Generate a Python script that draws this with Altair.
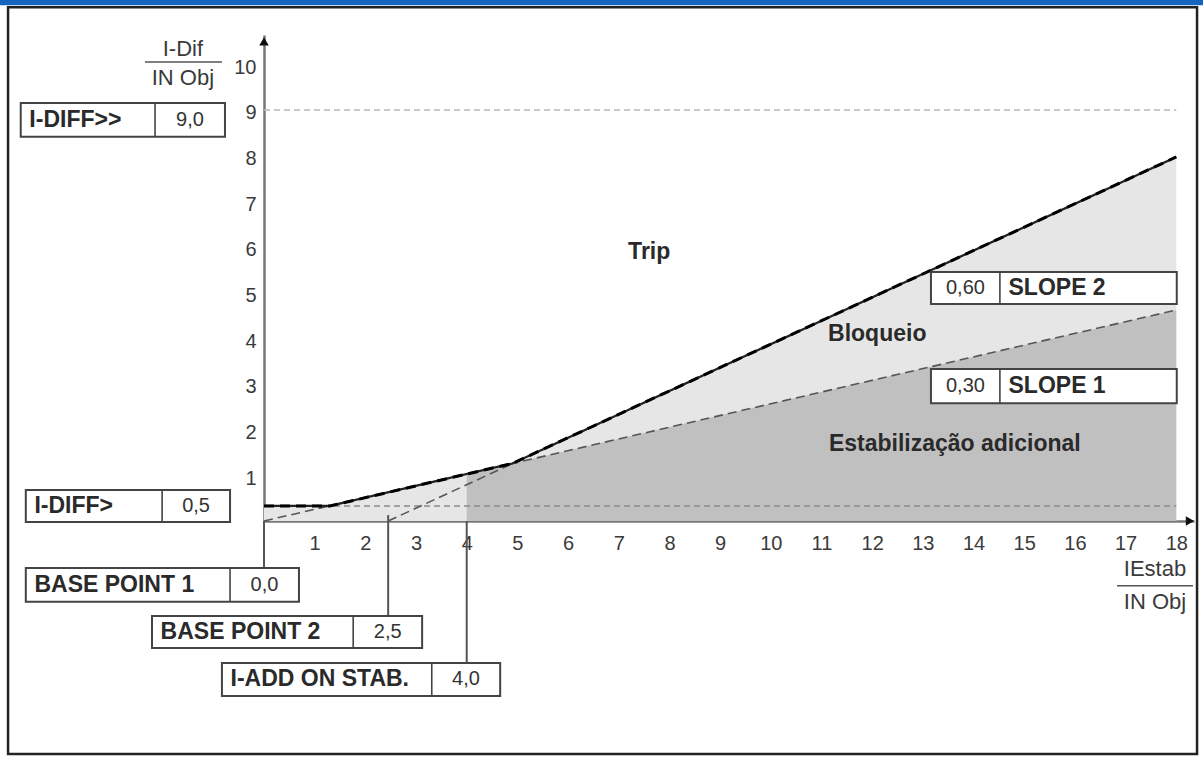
import altair as alt
import pandas as pd

# ---------------- data ----------------
# characteristic (operating line)
char_x = [0, 1.3, 4.9, 18]
char_y = [0.33, 0.33, 1.26, 7.97]
# slope 1 line (from base point 1)
slope1_x = [0, 18]
slope1_y = [0, 4.62]
# slope 2 line (from base point 2)
slope2_x = [2.45, 18]
slope2_y = [0, 7.97]
# additional stabilisation region (from I-ADD ON STAB.)
add_x = [4, 18]
add_y = [1.03, 4.62]
# threshold lines
idiff_low = 0.33
idiff_high = 9
thr_x = [0, 18]

x_ticks = list(range(1, 19))
y_ticks = list(range(1, 11))

# parameter boxes: label, value
box_labels = ["I-DIFF>>", "I-DIFF>", "BASE POINT 1", "BASE POINT 2", "I-ADD ON STAB.", "SLOPE 2", "SLOPE 1"]
box_values = ["9,0", "0,5", "0,0", "2,5", "4,0", "0,60", "0,30"]
# box geometry in data units: left, divider, right, bottom, top
box_left = [-4.80, -4.70, -4.70, -2.21, -0.83, 13.16, 13.16]
box_div = [-2.15, -2.01, -0.67, 1.76, 3.31, 14.52, 14.52]
box_right = [-0.77, -0.67, 0.69, 3.12, 4.66, 18.01, 18.01]
box_bottom = [8.41, -0.02, -1.77, -2.78, -3.83, 4.75, 2.58]
box_top = [9.15, 0.68, -1.03, -2.08, -3.11, 5.45, 3.33]
# label on the left side of the box for the first five, right side for slopes
label_left_side = [True, True, True, True, True, False, False]

region_text = ["Trip", "Bloqueio", "Estabilização adicional"]
region_x = [7.6, 12.1, 13.63]
region_y = [5.89, 4.09, 1.68]

# ---------------- scales ----------------
XS = alt.Scale(domain=[0, 18.35], nice=False, zero=False)
YS = alt.Scale(domain=[0, 10.64], nice=False, zero=False)
FONT = "Liberation Sans"

XAX = alt.Axis(values=x_ticks, title=None, ticks=False, grid=False, domainColor="#777",
               domainWidth=2.5, labelFontSize=20, labelColor="#3a3a3a", labelPadding=12,
               labelFont=FONT, labelFlush=False, labelOverlap=False)
YAX = alt.Axis(values=y_ticks, title=None, ticks=False, grid=False, domainColor="#777",
               domainWidth=2.5, labelFontSize=20, labelColor="#3a3a3a", labelPadding=8,
               labelFont=FONT, labelOffset=3, labelFlush=False, labelOverlap=False)


def X(f, **kw):
    return alt.X(f, type="quantitative", scale=XS, axis=XAX, **kw)


def Y(f, **kw):
    return alt.Y(f, type="quantitative", scale=YS, axis=YAX, **kw)


char_df = pd.DataFrame({"x": char_x, "y": char_y})
s1_df = pd.DataFrame({"x": slope1_x, "y": slope1_y})
s2_df = pd.DataFrame({"x": slope2_x, "y": slope2_y})
add_df = pd.DataFrame({"x": add_x, "y": add_y})
thr_df = pd.DataFrame({"x": thr_x[0], "x2": thr_x[1], "y": [idiff_low, idiff_high],
                       "kind": ["low", "high"]})

# frame and header bar (decoration, in data units)
frame_df = pd.DataFrame({"x": [-5.05], "x2": [18.41], "y": [-5.10], "y2": [11.25]})
bar_df = pd.DataFrame({"x": [-5.4], "x2": [18.7], "y": [11.29], "y2": [11.8]})

layers = []

layers.append(alt.Chart(bar_df).mark_rect(color="#1565c0").encode(
    x=X("x"), x2="x2", y=Y("y"), y2="y2"))
layers.append(alt.Chart(frame_df).mark_rect(fill="white", fillOpacity=0, stroke="#222",
                                            strokeWidth=2.5).encode(
    x=X("x"), x2="x2", y=Y("y"), y2="y2"))

# shaded regions
layers.append(alt.Chart(char_df).mark_area(color="#e6e6e6").encode(
    x=X("x"), y=Y("y"), y2=alt.datum(0)))
layers.append(alt.Chart(add_df).mark_area(color="#c0c0c0").encode(
    x=X("x"), y=Y("y"), y2=alt.datum(0)))

# threshold dashed lines
layers.append(alt.Chart(thr_df).mark_rule(strokeDash=[6, 4], strokeWidth=1.5).encode(
    x=X("x"), x2="x2", y=Y("y"),
    color=alt.Color("kind:N", scale=alt.Scale(domain=["low", "high"], range=["#8a8a8a", "#b8b8b8"]),
                    legend=None)))

# slope dashed lines
layers.append(alt.Chart(s1_df).mark_line(color="#555", strokeWidth=1.6, strokeDash=[9, 5]).encode(
    x=X("x"), y=Y("y")))
layers.append(alt.Chart(s2_df).mark_line(color="#555", strokeWidth=1.6, strokeDash=[9, 5]).encode(
    x=X("x"), y=Y("y")))
# characteristic
layers.append(alt.Chart(char_df).mark_line(color="#222", strokeWidth=2.2).encode(
    x=X("x"), y=Y("y")))
layers.append(alt.Chart(char_df).mark_line(color="#000", strokeWidth=3, strokeDash=[10, 6]).encode(
    x=X("x"), y=Y("y")))

# connector lines from the axis down to the boxes
conn_df = pd.DataFrame({"x": [0, 2.45, 4.0], "y": [0, 0.13, 0], "y2": [-1.03, -2.08, -3.11]})
layers.append(alt.Chart(conn_df).mark_rule(color="#555", strokeWidth=2).encode(
    x=X("x"), y=Y("y"), y2="y2"))

# arrows
arr_df = pd.DataFrame({"x": [0, 18.27], "y": [10.5, 0], "shape": ["triangle-up", "triangle-right"]})
layers.append(alt.Chart(arr_df).mark_point(filled=True, color="#111", size=90, opacity=1).encode(
    x=X("x"), y=Y("y"),
    shape=alt.Shape("shape:N", scale=alt.Scale(domain=["triangle-up", "triangle-right"],
                                               range=["triangle-up", "triangle-right"]), legend=None)))

# parameter boxes
bx = pd.DataFrame({"label": box_labels, "value": box_values, "l": box_left, "d": box_div,
                   "r": box_right, "b": box_bottom, "t": box_top, "left": label_left_side})
bx["ym"] = (bx["b"] + bx["t"]) / 2
bx["lab_x"] = [l + 0.17 if s else d + 0.17 for l, d, s in zip(bx["l"], bx["d"], bx["left"])]
bx["val_x"] = [(d + r) / 2 if s else (l + d) / 2 for l, d, r, s in zip(bx["l"], bx["d"], bx["r"], bx["left"])]

layers.append(alt.Chart(bx).mark_rect(fill="white", stroke="#444", strokeWidth=2).encode(
    x=X("l"), x2="r", y=Y("b"), y2="t"))
layers.append(alt.Chart(bx).mark_rule(color="#444", strokeWidth=1.6).encode(
    x=X("d"), y=Y("b"), y2="t"))
layers.append(alt.Chart(bx).mark_text(align="left", baseline="middle", font=FONT, fontSize=23,
                                      fontWeight="bold", color="#2a2a2a").encode(
    x=X("lab_x"), y=Y("ym"), text="label"))
layers.append(alt.Chart(bx).mark_text(align="center", baseline="middle", font=FONT, fontSize=20,
                                      color="#333").encode(
    x=X("val_x"), y=Y("ym"), text="value"))

# region labels
rg = pd.DataFrame({"x": region_x, "y": region_y, "t": region_text})
layers.append(alt.Chart(rg).mark_text(align="center", baseline="middle", font=FONT, fontSize=23,
                                      fontWeight="bold", color="#2a2a2a").encode(
    x=X("x"), y=Y("y"), text="t"))

# axis titles written as fractions
ttl = pd.DataFrame({"x": [-1.60, -1.60, 17.58, 17.58], "y": [10.33, 9.70, -1.05, -1.78],
                    "t": ["I-Dif", "IN Obj", "IEstab", "IN Obj"]})
layers.append(alt.Chart(ttl).mark_text(align="center", baseline="middle", font=FONT, fontSize=22,
                                       color="#3a3a3a").encode(
    x=X("x"), y=Y("y"), text="t"))
bars = pd.DataFrame({"x": [-2.35, 16.83], "x2": [-0.83, 18.33], "y": [10.05, -1.42]})
layers.append(alt.Chart(bars).mark_rule(color="#555", strokeWidth=1.5).encode(
    x=X("x"), x2="x2", y=Y("y")))

chart = alt.layer(*layers).properties(
    width=930, height=486, autosize="none",
    padding={"left": 264, "top": 35, "right": 9, "bottom": 237},
    background="white",
).configure_view(strokeWidth=0)

chart.save("out.html", embed_options={"renderer": "svg", "actions": False})
